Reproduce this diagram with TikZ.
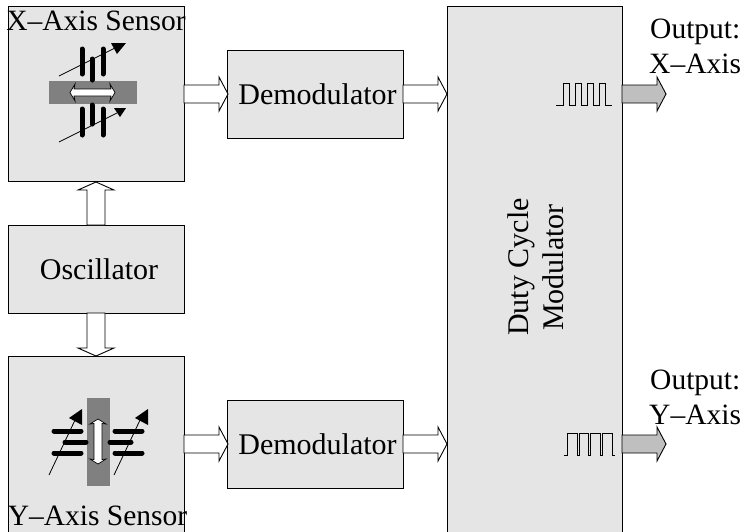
\documentclass[tikz,border=0pt]{standalone}
\usepackage{fontspec}
\setmainfont{Liberation Serif}
\tikzset{
  blockrect/.style={rectangle,draw=black,fill=black!10,line width=0.9pt,inner sep=0pt,anchor=north west},
  lbl/.style={font=\fontsize{30}{36}\selectfont,inner sep=0pt,text=black},
  lblsmall/.style={font=\fontsize{29.5}{36}\selectfont,inner sep=0pt,text=black},
  hollow/.style={draw=black,fill=white,line width=0.9pt},
  outarrow/.style={draw=black,fill=black!25,line width=0.9pt},
  barfill/.style={fill=black!50,draw=none},
  plate/.style={line width=5pt,line cap=round,black},
  tune/.style={line width=0.8pt,black},
  pulse/.style={line width=1pt,black}
}
\begin{document}
\begin{tikzpicture}[x=1pt,y=-1pt]
\useasboundingbox (0,0) rectangle (743,531);
\newcommand{\rarrow}[3]{\path[#3] (#1,#2-9) -- (#1+35,#2-9) -- (#1+35,#2-17) -- (#1+44,#2) -- (#1+35,#2+17) -- (#1+35,#2+9) -- (#1,#2+9) -- cycle;}
% blocks
\node[blockrect,minimum width=176pt,minimum height=175pt] (xs) at (8,6) {};
\node[blockrect,minimum width=176pt,minimum height=88pt] (osc) at (8,225) {};
\node[blockrect,minimum width=176pt,minimum height=190pt] (ys) at (8,356) {};
\node[blockrect,minimum width=176pt,minimum height=88pt] (d1) at (227,50) {};
\node[blockrect,minimum width=176pt,minimum height=88pt] (d2) at (227,400) {};
\node[blockrect,minimum width=175pt,minimum height=540pt] (dc) at (447,6) {};
% block arrows
\rarrow{184}{94}{hollow}
\rarrow{184}{444}{hollow}
\rarrow{403}{94}{hollow}
\rarrow{403}{444}{hollow}
\rarrow{622}{94}{outarrow}
\rarrow{622}{444}{outarrow}
\path[hollow] (87,225) -- (87,190) -- (78,190) -- (96,182) -- (114,190) -- (105,190) -- (105,225) -- cycle;
\path[hollow] (87,313) -- (87,348) -- (78,348) -- (96,356) -- (114,348) -- (105,348) -- (105,313) -- cycle;
% X icon
\fill[barfill] (49,81) rectangle (137,104);
\draw[plate] (82,49) -- (82,74);
\draw[plate] (92,59) -- (92,80);
\draw[plate] (103,49) -- (103,74);
\draw[plate] (82,109) -- (82,135);
\draw[plate] (92,105) -- (92,124);
\draw[plate] (103,109) -- (103,135);
\draw[tune] (59,76) -- (117,47);
\fill (111,43) -- (126,43) -- (117,54) -- cycle;
\draw[tune] (59,142) -- (117,113);
\fill (114,108) -- (126,108) -- (120,117) -- cycle;
\path[draw=black,fill=white,line width=0.7pt] (70,92.5) -- (75,84) -- (74,89) -- (111,89) -- (110,84) -- (115,92.5) -- (110,101) -- (111,96) -- (74,96) -- (75,101) -- cycle;
% Y icon
\fill[barfill] (87,398) rectangle (110,486);
\foreach \yy in {431,453}{
  \draw[plate] (54,\yy) -- (81,\yy);
  \draw[plate] (115,\yy) -- (142,\yy);
}
\draw[plate] (65,442) -- (86,442);
\draw[plate] (110,442) -- (131,442);
\draw[tune] (49,475) -- (76,418);
\fill (82,409) -- (82,425) -- (69,418) -- cycle;
\draw[tune] (114,475) -- (141,418);
\fill (148,409) -- (148,425) -- (135,418) -- cycle;
\path[draw=black,fill=white,line width=0.7pt] (98,419) -- (106,424) -- (102,423.5) -- (102,459.5) -- (106,459) -- (98,464) -- (90,459) -- (94,459.5) -- (94,423.5) -- (90,424) -- cycle;
% pulses
\draw[pulse] (556,105) -- (563,105) -- (563,83) -- (569,83) -- (569,105) -- (575,105) -- (575,83) -- (581,83) -- (581,105) -- (587,105) -- (587,83) -- (593,83) -- (593,105) -- (599,105) -- (599,83) -- (605,83) -- (605,105) -- (612,105);
\draw[pulse] (564,455) -- (567,455) -- (567,433) -- (577,433) -- (577,455) -- (579,455) -- (579,433) -- (588,433) -- (588,455) -- (590,455) -- (590,433) -- (600,433) -- (600,455) -- (602,455) -- (602,433) -- (612,433) -- (612,455) -- (615,455);
% labels
\node[lblsmall,anchor=base] (t1) at (96,30) {X–Axis Sensor};
\node[lblsmall,anchor=base] (t2) at (97.5,525.5) {Y–Axis Sensor};
\node[lbl,anchor=center] (t3) at (99,269) {Oscillator};
\node[lbl,anchor=center] (t4) at (317.5,94) {Demodulator};
\node[lbl,anchor=center] (t5) at (317.5,444) {Demodulator};
\node[lblsmall,anchor=base west] (t6) at (650,38) {Output:};
\node[lblsmall,anchor=base west] (t7) at (649,73) {X–Axis};
\node[lblsmall,anchor=base west] (t8) at (650,389) {Output:};
\node[lblsmall,anchor=base west] (t9) at (649,424) {Y–Axis};
\node[lbl,anchor=base,rotate=90] (t10) at (528.5,267) {Duty Cycle};
\node[lbl,anchor=base,rotate=90] (t11) at (563,267.5) {Modulator};
\end{tikzpicture}
\end{document}
